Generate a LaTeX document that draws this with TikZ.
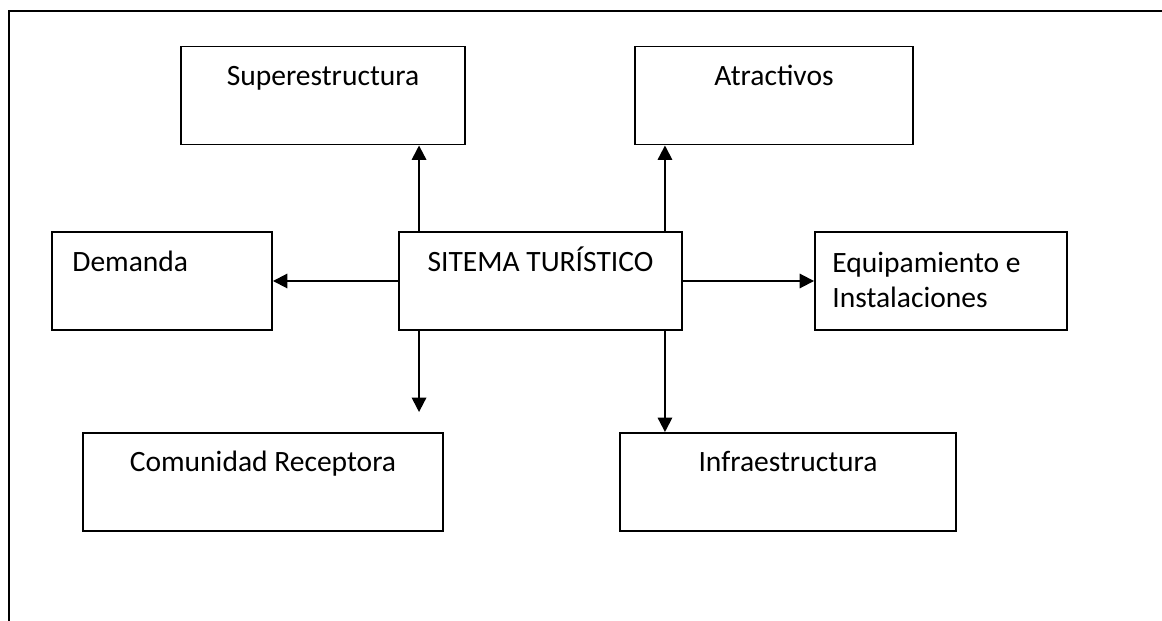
\documentclass[tikz,border=0pt]{standalone}
\usepackage{fontspec}
\setmainfont{Carlito}
\usetikzlibrary{arrows.meta}
\tikzset{
  caja/.style={draw,line width=1.1pt,minimum height=1.96cm,inner sep=0pt},
  texto/.style={font=\fontsize{16.8}{19.8}\selectfont,inner sep=0pt},
  flecha/.style={line width=1.1pt,-{Triangle[length=8.2pt,width=8.2pt]}}
}
\begin{document}
\begin{tikzpicture}
\useasboundingbox (0,0) rectangle (23.24,-12.42);
% marco
\draw[line width=1.4pt] (23.24,-0.22) -- (0.18,-0.22) -- (0.18,-12.42);
% cajas
\node[caja,minimum width=5.68cm,label={[texto,anchor=base,yshift=-0.8cm]north:Superestructura}] (sup) at (6.46,-1.91) {};
\node[caja,minimum width=5.56cm,label={[texto,anchor=base,yshift=-0.8cm]north:Atractivos}] (atr) at (15.48,-1.91) {};
\node[caja,minimum width=4.40cm,label={[texto,anchor=base west,xshift=0.42cm,yshift=-0.8cm]north west:Demanda}] (dem) at (3.24,-5.62) {};
\node[caja,minimum width=5.66cm,label={[texto,anchor=base,yshift=-0.8cm]north:SITEMA TURÍSTICO}] (sis) at (10.81,-5.62) {};
\node[caja,minimum width=5.04cm,label={[texto,align=left,anchor=base west,xshift=0.36cm,yshift=-1.52cm]north west:Equipamiento e\\Instalaciones}] (equ) at (18.82,-5.62) {};
\node[caja,minimum width=7.20cm,label={[texto,anchor=base,yshift=-0.78cm]north:Comunidad Receptora}] (com) at (5.26,-9.64) {};
\node[caja,minimum width=6.72cm,label={[texto,anchor=base,yshift=-0.78cm]north:Infraestructura}] (inf) at (15.76,-9.64) {};
\coordinate (comtop) at ([yshift=0.4cm]com.north);
% flechas
\draw[flecha] ([xshift=0.42cm]sis.north west) -- ([xshift=0.42cm]sis.north west |- sup.south);
\draw[flecha] ([xshift=-0.36cm]sis.north east) -- ([xshift=-0.36cm]sis.north east |- atr.south);
\draw[flecha] (sis.west) -- (dem.east);
\draw[flecha] (sis.east) -- (equ.west);
\draw[flecha] ([xshift=0.42cm]sis.south west) -- ([xshift=0.42cm]sis.south west |- comtop);
\draw[flecha] ([xshift=-0.36cm]sis.south east) -- ([xshift=-0.36cm]sis.south east |- inf.north);
\end{tikzpicture}
\end{document}
